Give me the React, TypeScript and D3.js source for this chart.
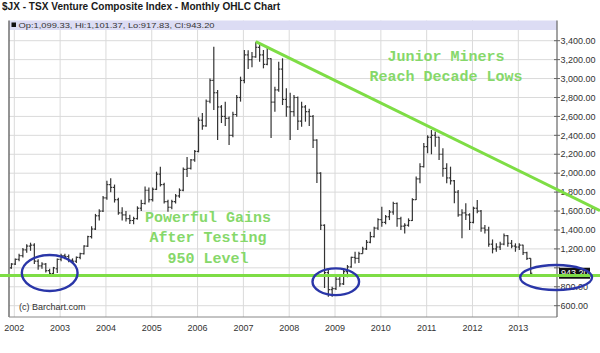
import React from "react";
import * as d3 from "d3";

const W = 600;
const H = 353;

const title = "$JX - TSX Venture Composite Index - Monthly OHLC Chart";
const infoText = "Op:1,099.33, Hi:1,101.37, Lo:917.83, Cl:943.20";
const credit = "(c) Barchart.com";

// first bar: December 2001, one bar per month, last bar April 2013
const firstMonth = "2001-12";

const opens = [
  1000,
  1040, 1090, 1130, 1190, 1230, 1240, 1070, 1020, 1040, 970, 940, 990,
  1090, 1130, 1120, 1080, 1070, 1110, 1150, 1230, 1330, 1410, 1550, 1600,
  1740, 1880, 1850, 1720, 1580, 1560, 1520, 1500, 1520, 1630, 1680, 1820,
  1720, 1830, 1990, 1880, 1700, 1640, 1700, 1760, 1820, 2040, 2050, 2140,
  2230, 2560, 2500, 2760, 2980, 2850, 2700, 2600, 2580, 2400, 2620, 2800,
  2980, 3250, 3200, 3230, 3330, 3250, 3150, 3210, 2750, 2880, 3100, 2780,
  2700, 2650, 2800, 2550, 2700, 2650, 2600, 2350, 2000, 1450, 950, 770,
  780, 880, 830, 960, 1010, 1110, 1100, 1150, 1200, 1270, 1330, 1420,
  1510, 1480, 1540, 1590, 1680, 1520, 1440, 1450, 1500, 1720, 1940, 2070,
  2280, 2380, 2400, 2380, 2200, 2050, 1950, 1920, 1800, 1560, 1580, 1560,
  1480, 1630, 1600, 1420, 1400, 1250, 1200, 1220, 1250, 1340, 1260, 1230,
  1220, 1240, 1160, 1099.33,
];
const highs = [
  1050,
  1100, 1150, 1210, 1250, 1266, 1260, 1090, 1060, 1050, 990, 1010, 1100,
  1150, 1150, 1140, 1100, 1120, 1160, 1240, 1340, 1440, 1570, 1620, 1760,
  1920, 1946, 1880, 1740, 1640, 1600, 1560, 1540, 1650, 1720, 1860, 1850,
  1850, 2016, 2069, 1900, 1720, 1720, 1780, 1840, 2060, 2170, 2150, 2245,
  2590, 2636, 2780, 3000, 3337, 2880, 2720, 2756, 2600, 2650, 2826, 3020,
  3302, 3300, 3280, 3390, 3355, 3302, 3337, 3214, 2914, 3178, 3214, 2897,
  2850, 2826, 2810, 2756, 2720, 2680, 2615, 2360, 2010, 1460, 998, 800,
  906, 924, 977, 1030, 1118, 1170, 1170, 1223, 1294, 1382, 1435, 1523,
  1646, 1558, 1611, 1699, 1690, 1540, 1470, 1523, 1735, 1964, 2105, 2320,
  2400, 2456, 2440, 2386, 2263, 2105, 2069, 1927, 1822, 1620, 1682, 1576,
  1646, 1717, 1611, 1453, 1435, 1300, 1259, 1276, 1364, 1347, 1294, 1259,
  1259, 1245, 1170, 1101.37,
];
const lows = [
  990,
  1030, 1070, 1110, 1160, 1180, 1040, 980, 990, 950, 906, 925, 945,
  1070, 1090, 1060, 1040, 1050, 1090, 1140, 1220, 1310, 1400, 1500, 1590,
  1720, 1800, 1690, 1560, 1500, 1490, 1463, 1460, 1510, 1600, 1670, 1690,
  1700, 1822, 1860, 1680, 1593, 1620, 1680, 1740, 1810, 1960, 2040, 2120,
  2220, 2460, 2490, 2740, 2668, 2351, 2530, 2500, 2298, 2380, 2597, 2756,
  2950, 3100, 3120, 3220, 3178, 3108, 3140, 2372, 2650, 2860, 2720, 2597,
  2351, 2600, 2456, 2491, 2544, 2500, 2266, 1896, 1399, 787, 695, 695,
  766, 800, 820, 900, 1000, 1047, 1050, 1150, 1190, 1260, 1320, 1400,
  1435, 1460, 1505, 1560, 1435, 1400, 1364, 1435, 1495, 1717, 1893, 2060,
  2210, 2200, 2280, 2140, 1963, 1893, 1880, 1682, 1540, 1312, 1505, 1400,
  1470, 1576, 1382, 1364, 1223, 1153, 1170, 1188, 1240, 1223, 1206, 1170,
  1188, 1136, 1082, 917.83,
];
const closes = [
  1040,
  1090, 1130, 1190, 1230, 1240, 1070, 1020, 1040, 970, 940, 1000, 1090,
  1130, 1120, 1080, 1070, 1110, 1150, 1230, 1330, 1410, 1550, 1600, 1740,
  1880, 1850, 1720, 1580, 1560, 1520, 1500, 1520, 1630, 1680, 1820, 1720,
  1830, 1990, 1880, 1700, 1640, 1700, 1760, 1820, 2040, 2050, 2140, 2230,
  2560, 2500, 2760, 2980, 2850, 2700, 2600, 2580, 2400, 2620, 2800, 2980,
  3250, 3200, 3230, 3330, 3250, 3150, 3210, 2750, 2880, 3100, 2780, 2700,
  2650, 2800, 2550, 2700, 2650, 2600, 2350, 2000, 1450, 950, 770, 780,
  880, 830, 960, 1010, 1110, 1100, 1150, 1200, 1270, 1330, 1420, 1510,
  1480, 1540, 1590, 1680, 1520, 1440, 1450, 1500, 1720, 1940, 2070, 2280,
  2380, 2400, 2380, 2200, 2050, 1950, 1920, 1800, 1560, 1580, 1560, 1480,
  1630, 1600, 1420, 1400, 1250, 1200, 1220, 1250, 1340, 1260, 1230, 1220,
  1240, 1160, 1099, 943.2,
];

const yTicks = [600, 800, 1000, 1200, 1400, 1600, 1800, 2000, 2200, 2400, 2600, 2800, 3000, 3200, 3400];
const years = [2002, 2003, 2004, 2005, 2006, 2007, 2008, 2009, 2010, 2011, 2012, 2013];
const lastClose = 943.2;

// annotations, in data units (month index from Jan 2002, index value)
const supportLevel = 917.83;
const trendStart = { m: 63.25, v: 3390 };
const trendEnd = { m: 142.05, v: 1830 };
const ellipses = [
  { m: 9.27, v: 945, dm: 7.3, dv: 190 },
  { m: 84.2, v: 853, dm: 6.1, dv: 141 },
  { m: 141.9, v: 898, dm: 9.4, dv: 132 },
];
const noteRight = ["Junior Miners", "Reach Decade Lows"];
const noteLeft = ["Powerful Gains", "After Testing", "950 Level"];

const SANS = "'Liberation Sans', Arial, Helvetica, sans-serif";
const MONO = "'Liberation Mono', 'Courier New', monospace";

export default function App() {
  const plotL = 9;
  const plotR = 557;
  const plotT = 20.5;
  const plotB = 317;

  const x = d3.scaleLinear().domain([0, 132]).range([14.3, 518.3]);
  const y = d3.scaleLinear().domain([600, 3400]).range([305.7, 40.7]);

  const [fy, fm] = firstMonth.split("-").map(Number);
  const startIdx = (fy - 2002) * 12 + (fm - 1);

  const bars = opens.map((o, i) => ({
    cx: x(startIdx + i + 0.25),
    o: y(o),
    h: y(highs[i]),
    l: y(lows[i]),
    c: y(closes[i]),
  }));

  const fmt = d3.format(",.2f");

  // trend line extended to the right edge
  const tx1 = x(trendStart.m), ty1 = y(trendStart.v);
  const tx2 = x(trendEnd.m), ty2 = y(trendEnd.v);
  const slope = (ty2 - ty1) / (tx2 - tx1);
  const txEnd = W;
  const tyEnd = ty1 + slope * (txEnd - tx1);

  const lastY = y(lastClose);
  const green = "#7edd45";
  const textGreen = "#86d86a";
  const blue = "#2a36a8";

  return (
    <svg
      width={W}
      height={H}
      viewBox={`0 0 ${W} ${H}`}
      style={{ position: "absolute", left: 0, top: 0, background: "#fff" }}
    >
      <rect x={0} y={0} width={W} height={H} fill="#fff" />
      <text x={2} y={10} fontFamily={SANS} fontWeight="bold" fontSize={10.5} fill="#1a1a1a"
        textLength={278} lengthAdjust="spacingAndGlyphs">{title}</text>

      {/* grid */}
      {yTicks.map((t) => (
        <line key={"gy" + t} x1={plotL} x2={plotR} y1={y(t)} y2={y(t)} stroke="#dadada" strokeWidth={1} />
      ))}
      {years.map((yr) => (
        <line key={"gx" + yr} x1={x((yr - 2002) * 12)} x2={x((yr - 2002) * 12)} y1={plotT} y2={plotB}
          stroke="#dadada" strokeWidth={1} />
      ))}

      {/* OHLC bars */}
      <g stroke="#333" strokeWidth={1.2}>
        {bars.map((b, i) => (
          <g key={i}>
            <line x1={b.cx} x2={b.cx} y1={b.h} y2={b.l} />
            <line x1={b.cx - 1.6} x2={b.cx} y1={b.o} y2={b.o} />
            <line x1={b.cx} x2={b.cx + 1.6} y1={b.c} y2={b.c} />
          </g>
        ))}
      </g>

      {/* info bar */}
      <rect x={plotL} y={plotT} width={plotR - plotL} height={9.5} fill="#dcdcf4" />
      <rect x={11.5} y={22.5} width={4.5} height={4.5} fill="#111" />
      <text x={18.5} y={28} fontFamily={SANS} fontSize={8} fill="#333"
        textLength={196} lengthAdjust="spacingAndGlyphs">{infoText}</text>

      {/* frame */}
      <line x1={plotL} x2={plotL} y1={plotT} y2={plotB} stroke="#666" strokeWidth={1.4} />
      <line x1={plotL} x2={plotR} y1={plotB} y2={plotB} stroke="#888" strokeWidth={1} />
      <line x1={plotR} x2={plotR} y1={plotT} y2={plotB} stroke="#666" strokeWidth={1.2} />

      {/* y axis */}
      {yTicks.map((t) => (
        <g key={"yt" + t}>
          <line x1={plotR - 3} x2={plotR + 3} y1={y(t)} y2={y(t)} stroke="#666" strokeWidth={1} />
          {Math.abs(y(t) - lastY) > 8 && (
            <text x={plotR + 3.5} y={y(t) + 3.2} fontFamily={SANS} fontSize={9} fill="#333">{fmt(t)}</text>
          )}
        </g>
      ))}
      <rect x={plotR + 2} y={lastY - 5.5} width={31} height={11} fill="#111" />
      <text x={plotR + 4} y={lastY + 3.2} fontFamily={SANS} fontSize={9} fill="#fff">{fmt(lastClose)}</text>

      {/* x axis */}
      {years.map((yr) => (
        <text key={"xl" + yr} x={x((yr - 2002) * 12)} y={331} textAnchor="middle" fontFamily={SANS}
          fontSize={9} fill="#333">{yr}</text>
      ))}

      <text x={19} y={310} fontFamily={SANS} fontSize={9} fill="#333">{credit}</text>

      {/* annotations */}
      <line x1={0} x2={W} y1={y(supportLevel)} y2={y(supportLevel)} stroke={green} strokeWidth={3} />
      <line x1={tx1} y1={ty1} x2={txEnd} y2={tyEnd} stroke={green} strokeWidth={3} />

      {ellipses.map((e, i) => {
        const cx = x(e.m);
        const cy = y(e.v);
        const rx = x(e.m + e.dm) - cx;
        const ry = cy - y(e.v + e.dv);
        return <ellipse key={"el" + i} cx={cx} cy={cy} rx={rx} ry={ry} fill="none" stroke={blue} strokeWidth={2.4} />;
      })}

      {noteRight.map((t, i) => (
        <text key={"nr" + i} x={446} y={60.5 + i * 20.5} textAnchor="middle" fontFamily={MONO}
          fontSize={15} fontWeight="bold" fill={textGreen}>{t}</text>
      ))}
      {noteLeft.map((t, i) => (
        <text key={"nl" + i} x={208} y={221.5 + i * 20.7} textAnchor="middle" fontFamily={MONO}
          fontSize={15} fontWeight="bold" fill={textGreen}>{t}</text>
      ))}
    </svg>
  );
}
